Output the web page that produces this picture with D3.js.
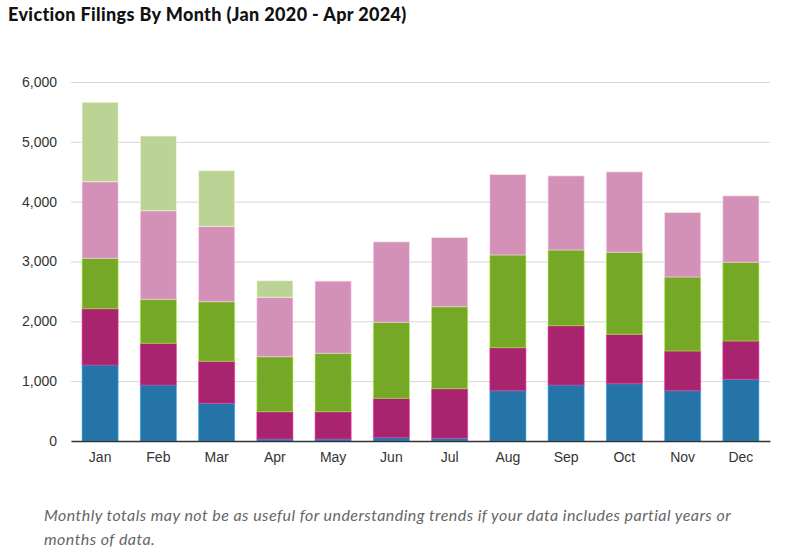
<!DOCTYPE html>
<html>
<head>
<meta charset="utf-8">
<script src="https://cdn.jsdelivr.net/npm/d3@7"></script>
<style>
  body { margin: 0; background: #fff; }
  .title { font-family: Lato, sans-serif; font-weight: 900; font-size: 18px; letter-spacing: 0.35px; fill: #111; }
  .axis text { font-family: "Liberation Sans", Arial, sans-serif; font-size: 14px; fill: #333; }
  .note { font-family: Lato, sans-serif; font-style: italic; font-size: 16px; letter-spacing: 0.45px; fill: #666; }
</style>
</head>
<body>
<svg id="chart" width="786" height="548"></svg>
<script>
const months = ['Jan', 'Feb', 'Mar', 'Apr', 'May', 'Jun', 'Jul', 'Aug', 'Sep', 'Oct', 'Nov', 'Dec'];
const years = ['2020', '2021', '2022', '2023', '2024'];
const y2020 = [1270, 936, 630, 33, 33, 55, 45, 841, 936, 958, 841, 1031];
const y2021 = [941, 697, 702, 457, 457, 658, 829, 719, 991, 825, 663, 640];
const y2022 = [842, 735, 996, 919, 976, 1270, 1371, 1549, 1265, 1371, 1237, 1316];
const y2023 = [1281, 1481, 1260, 993, 1208, 1348, 1159, 1348, 1242, 1347, 1081, 1113];
const y2024 = [1327, 1248, 930, 277, 0, 0, 0, 0, 0, 0, 0, 0];
const colors = ['#2474a8', '#a8246f', '#74a826', '#d491b8', '#bbd496'];
const yTicks = [0, 1000, 2000, 3000, 4000, 5000, 6000];

const series = [y2020, y2021, y2022, y2023, y2024];
const table = months.map((m, i) => {
  const row = { month: m };
  years.forEach((yr, j) => { row[yr] = series[j][i]; });
  return row;
});

const svg = d3.select('#chart');
const margin = { top: 82, left: 71, right: 16, bottom: 107 };
const width = 786, height = 548;

const x = d3.scaleBand()
  .domain(months)
  .range([margin.left, width - margin.right])
  .paddingInner(0.38)
  .paddingOuter(0.19);

const y = d3.scaleLinear().domain([0, 6000]).range([height - margin.bottom, margin.top]);

// gridlines
svg.append('g')
  .attr('transform', `translate(${margin.left},0)`)
  .call(d3.axisLeft(y).tickValues(yTicks).tickFormat('').tickSize(-(width - margin.right - margin.left)))
  .call(g => g.select('.domain').remove())
  .call(g => g.selectAll('line').attr('stroke', '#d6d6d6').attr('stroke-width', 1));

const stacked = d3.stack().keys(years)(table);

svg.append('g')
  .selectAll('g')
  .data(stacked)
  .join('g')
  .attr('fill', (d, i) => colors[i])
  .attr('stroke', (d, i) => d3.color(colors[i]).brighter(1.1))
  .attr('stroke-opacity', 0.55)
  .selectAll('rect')
  .data(d => d)
  .join('rect')
  .attr('x', d => x(d.data.month))
  .attr('width', x.bandwidth())
  .attr('y', d => y(d[1]))
  // keep empty segments as a hairline so their edge still shows, like the original
  .attr('height', d => Math.max(y(d[0]) - y(d[1]), 0.01));

// y axis labels
svg.append('g')
  .attr('class', 'axis')
  .attr('transform', `translate(${margin.left},0)`)
  .call(d3.axisLeft(y).tickValues(yTicks).tickFormat(d3.format(',')).tickSize(0).tickPadding(14))
  .call(g => g.select('.domain').remove());

// x axis
svg.append('g')
  .attr('class', 'axis')
  .attr('transform', `translate(0,${y(0)})`)
  .call(d3.axisBottom(x).tickSize(0).tickPadding(11))
  .call(g => g.select('.domain').attr('stroke', '#333').attr('stroke-width', 1.5));

svg.append('text')
  .attr('class', 'title')
  .attr('x', 8)
  .attr('y', 21)
  .text('Eviction Filings By Month (Jan 2020 - Apr 2024)');

const note = svg.append('text').attr('class', 'note');
note.append('tspan').attr('x', 44).attr('y', 521)
  .text('Monthly totals may not be as useful for understanding trends if your data includes partial years or');
note.append('tspan').attr('x', 44).attr('y', 545)
  .text('months of data.');
</script>
</body>
</html>
